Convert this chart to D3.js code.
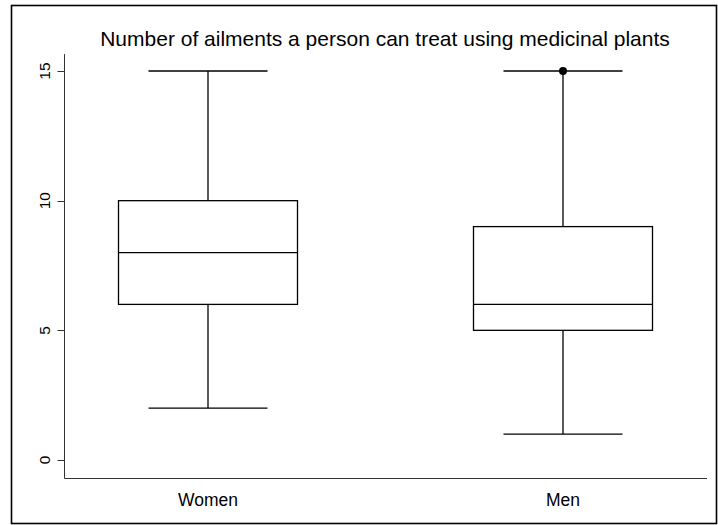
<!DOCTYPE html>
<html>
<head>
<meta charset="utf-8">
<script src="https://cdn.jsdelivr.net/npm/d3@7"></script>
<style>
  body { margin: 0; background: #fff; }
  text { font-family: "Liberation Sans", Arial, sans-serif; fill: #000; }
</style>
</head>
<body>
<svg width="718" height="525"></svg>
<script>
// data
const groups = ['Women', 'Men'];
const mins = [2, 1];
const q1s = [6, 5];
const medians = [8, 6];
const q3s = [10, 9];
const maxes = [15, 15];
const outliers = [[], [15]];
const yTicks = [0, 5, 10, 15];

const boxes = groups.map((g, i) => ({
    name: g,
    min: mins[i],
    q1: q1s[i],
    med: medians[i],
    q3: q3s[i],
    max: maxes[i],
    out: outliers[i]
}));

const svg = d3.select('svg');

// outer frame
svg.append('rect')
    .attr('x', 11.5).attr('y', 5.5)
    .attr('width', 705).attr('height', 518)
    .attr('fill', 'none')
    .attr('stroke', '#000')
    .attr('stroke-width', 1.6);

const y = d3.scaleLinear().domain([0, 15]).range([460, 71]);
const x = d3.scalePoint().domain(groups).range([208, 563]);

const axisLeft = 64.5, axisBottom = 478.5, axisRight = 707;

// L shaped axes frame
svg.append('path')
    .attr('d', `M${axisLeft},${y(15.65)}V${axisBottom}H${axisRight}`)
    .attr('fill', 'none')
    .attr('stroke', '#333')
    .attr('stroke-width', 1);

// y ticks
const yAxis = svg.append('g');
yAxis.selectAll('line')
    .data(yTicks)
    .enter()
    .append('line')
    .attr('x1', axisLeft - 7).attr('x2', axisLeft)
    .attr('y1', d => Math.round(y(d)) + 0.5)
    .attr('y2', d => Math.round(y(d)) + 0.5)
    .attr('stroke', '#333');
yAxis.selectAll('text')
    .data(yTicks)
    .enter()
    .append('text')
    .attr('transform', d => `translate(50,${y(d)}) rotate(-90)`)
    .attr('text-anchor', 'middle')
    .attr('font-size', 15.5)
    .text(d => d);

// x labels
svg.selectAll('.xlab')
    .data(groups)
    .enter()
    .append('text')
    .attr('class', 'xlab')
    .attr('x', d => x(d))
    .attr('y', 506)
    .attr('text-anchor', 'middle')
    .attr('font-size', 17.5)
    .text(d => d);

// title
svg.append('text')
    .attr('x', 385)
    .attr('y', 46)
    .attr('text-anchor', 'middle')
    .attr('font-size', 21)
    .text('Number of ailments a person can treat using medicinal plants');

// boxes
const boxW = 179, capW = 119;
const g = svg.selectAll('.box')
    .data(boxes)
    .enter()
    .append('g')
    .attr('class', 'box')
    .attr('stroke', '#000')
    .attr('stroke-width', 1.3)
    .attr('fill', 'none');

// whiskers
g.append('line')
    .attr('x1', d => x(d.name)).attr('x2', d => x(d.name))
    .attr('y1', d => y(d.q3)).attr('y2', d => y(d.max));
g.append('line')
    .attr('x1', d => x(d.name)).attr('x2', d => x(d.name))
    .attr('y1', d => y(d.q1)).attr('y2', d => y(d.min));
g.append('line')
    .attr('x1', d => x(d.name) - capW / 2).attr('x2', d => x(d.name) + capW / 2)
    .attr('y1', d => y(d.max)).attr('y2', d => y(d.max));
g.append('line')
    .attr('x1', d => x(d.name) - capW / 2).attr('x2', d => x(d.name) + capW / 2)
    .attr('y1', d => y(d.min)).attr('y2', d => y(d.min));

// box
g.append('rect')
    .attr('x', d => x(d.name) - boxW / 2)
    .attr('y', d => y(d.q3))
    .attr('width', boxW)
    .attr('height', d => y(d.q1) - y(d.q3))
    .attr('fill', '#fff');
g.append('line')
    .attr('x1', d => x(d.name) - boxW / 2).attr('x2', d => x(d.name) + boxW / 2)
    .attr('y1', d => y(d.med)).attr('y2', d => y(d.med));

// outliers
g.selectAll('circle')
    .data(d => d.out.map(v => ({ name: d.name, v: v })))
    .enter()
    .append('circle')
    .attr('cx', d => x(d.name))
    .attr('cy', d => y(d.v))
    .attr('r', 4)
    .attr('fill', '#000')
    .attr('stroke', 'none');
</script>
</body>
</html>
